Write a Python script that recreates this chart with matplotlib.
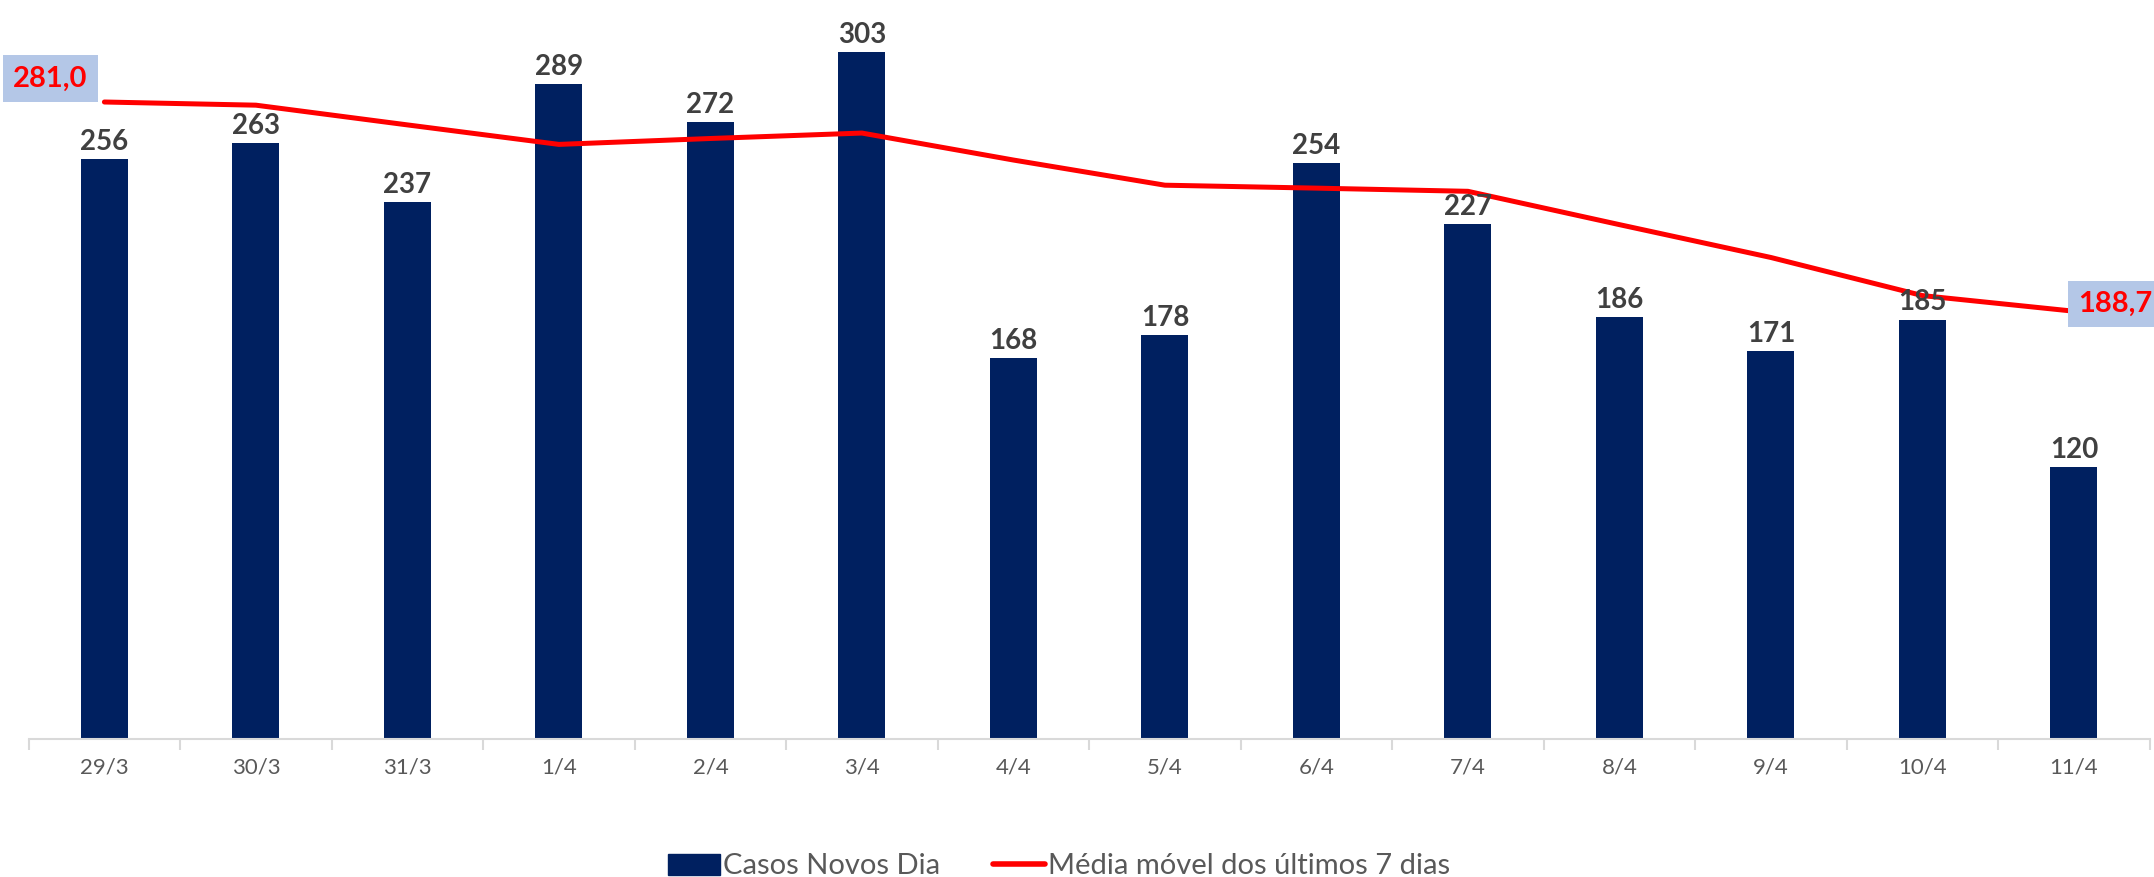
import matplotlib.pyplot as plt
from matplotlib.patches import Patch
from matplotlib.lines import Line2D
import numpy as np

plt.rcParams['font.family'] = ['Lato', 'DejaVu Sans']

# dados
datas = ['29/3', '30/3', '31/3', '1/4', '2/4', '3/4', '4/4',
         '5/4', '6/4', '7/4', '8/4', '9/4', '10/4', '11/4']
casos = [256, 263, 237, 289, 272, 303, 168, 178, 254, 227, 186, 171, 185, 120]
media = [281.0, 279.6, 270.9, 262.3, 264.9, 267.3, 255.4,
         244.3, 243.0, 241.6, 226.9, 212.4, 195.6, 188.7]

azul = '#002060'
vermelho = '#FF0000'
cinza = '#404040'

fig = plt.figure(figsize=(21.54, 8.77), dpi=100)
ax = fig.add_axes([0.0133, 0.1574, 0.9847, 0.8426])

x = np.arange(len(datas))
ax.bar(x, casos, width=0.31, color=azul, zorder=2)
ax.plot(x, media, color=vermelho, lw=3.6, solid_capstyle='round', zorder=3)

for xi, v in zip(x, casos):
    ax.annotate(str(v), (xi, v), xytext=(0, 3), textcoords='offset points',
                ha='center', va='bottom', fontsize=20, fontweight='bold',
                color=cinza, zorder=4)

caixa = dict(boxstyle='square,pad=0.35', fc='#B4C7E7', ec='none')
ax.annotate(f'{media[0]:.1f}'.replace('.', ','), (x[0], media[0]),
            xytext=(-12, 17), textcoords='offset points', ha='right', va='center',
            fontsize=21, fontweight='bold', color=vermelho, bbox=caixa, zorder=5)
ax.annotate(f'{media[-1]:.1f}'.replace('.', ','), (x[-1], media[-1]),
            xytext=(3, 5), textcoords='offset points', ha='left', va='center',
            fontsize=21, fontweight='bold', color=vermelho, bbox=caixa, zorder=5,
            annotation_clip=False)

ax.set_xlim(-0.5, len(datas) - 0.5)
ax.set_ylim(0, 326)
ax.set_xticks(x)
ax.set_xticklabels(datas, fontsize=16, color='#595959')
ax.set_xticks(np.arange(len(datas) + 1) - 0.5, minor=True)
ax.tick_params(axis='x', which='major', length=0, pad=13)
ax.tick_params(axis='x', which='minor', length=8, color='#D9D9D9', width=1.5)
ax.set_yticks([])
for lado in ['top', 'right', 'left']:
    ax.spines[lado].set_visible(False)
ax.spines['bottom'].set_color('#D9D9D9')
ax.spines['bottom'].set_linewidth(1.5)

alças = [Patch(color=azul), Line2D([], [], color=vermelho, lw=4, solid_capstyle='round')]
fig.legend(alças, ['Casos Novos Dia', 'Média móvel dos últimos 7 dias'],
           loc='center', bbox_to_anchor=(0.4917, 0.012), ncol=2, frameon=False,
           fontsize=21, labelcolor='#595959', handlelength=1.8, handleheight=0.72,
           handletextpad=0.1, columnspacing=1.8)

fig.savefig('out.png', dpi=100)
